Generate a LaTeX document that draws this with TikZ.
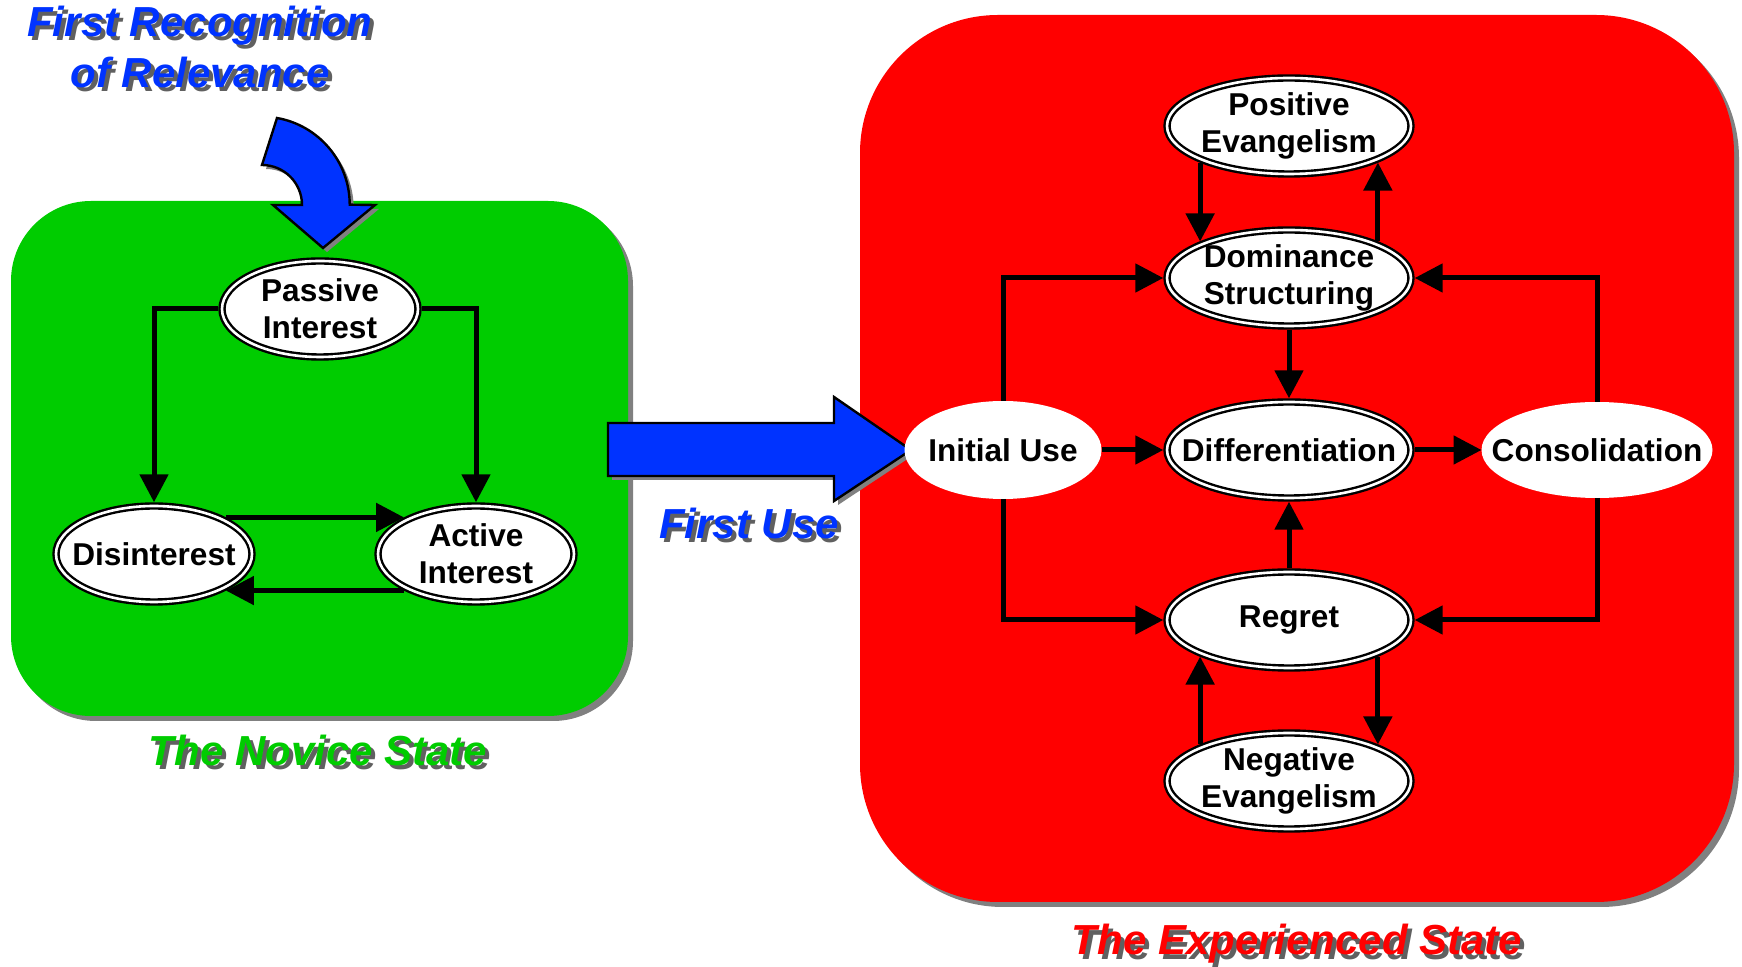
\documentclass[tikz,border=0pt]{standalone}
\usepackage{fontspec}
\setmainfont{Liberation Sans}
\usetikzlibrary{arrows.meta, shapes.geometric}

\definecolor{noviceGreen}{RGB}{0,204,0}
\definecolor{expertRed}{RGB}{255,0,0}
\definecolor{arrowBlue}{RGB}{0,51,255}
\definecolor{boxShadow}{RGB}{128,128,128}
\definecolor{textShadow}{RGB}{96,96,96}

% text with a grey drop shadow
\newcommand{\shadowed}[2]{\makebox[0pt][l]{\hspace{2pt}\raisebox{-2pt}{\color{textShadow}#2}}{\color{#1}#2}}

\tikzset{
    statenode/.style={ellipse, draw=black, line width=1.2pt, double=white, double distance=1.3pt,
        fill=white, minimum width=98pt, minimum height=48pt, inner xsep=-14pt, inner ysep=-4pt,
        outer sep=1.85pt, align=center, font=\fontsize{15.8}{18.5}\selectfont\bfseries},
    widestate/.style={statenode, minimum width=122pt},
    plainstate/.style={ellipse, fill=white, inner xsep=-14pt, inner ysep=-4pt, outer sep=0pt,
        align=center, font=\fontsize{15.8}{18.5}\selectfont\bfseries},
    flow/.style={-{Triangle[length=14pt,width=14pt]}, line width=2.5pt},
    headline/.style={inner sep=0pt, font=\fontsize{21}{25.5}\selectfont\bfseries\itshape},
    bigarrow/.style={fill=arrowBlue, draw=black, line width=1.2pt}
}

\begin{document}
\begin{tikzpicture}[x=0.5pt, y=-0.5pt]
    \useasboundingbox (0,0) rectangle (1742,967);

    % Novice state box
    \fill[boxShadow, rounded corners=40pt, xshift=2.5pt, yshift=-2.5pt] (11,201) rectangle (628,716);
    \fill[noviceGreen, rounded corners=40pt] (11,201) rectangle (628,716);

    % Experienced state box
    \fill[boxShadow, rounded corners=69pt, xshift=2.5pt, yshift=-2.5pt] (860,15) rectangle (1734,902);
    \fill[expertRed, rounded corners=69pt] (860,15) rectangle (1734,902);

    % First use arrow
    \fill[boxShadow, xshift=2pt, yshift=-2pt] (608,423) -- (834,423) -- (834,397) -- (911,450) -- (834,501) -- (834,476) -- (608,476) -- cycle;
    \draw[bigarrow] (608,423) -- (834,423) -- (834,397) -- (911,450) -- (834,501) -- (834,476) -- (608,476) -- cycle;

    % Recognition arrow
    \fill[boxShadow, xshift=2pt, yshift=-2pt] (277,118) arc (-80:0:88) -- (375,205) -- (323,248) -- (273,205) -- (302,205) arc (0:-90:40) -- cycle;
    \draw[bigarrow] (277,118) arc (-80:0:88) -- (375,205) -- (323,248) -- (273,205) -- (302,205) arc (0:-90:40) -- cycle;

    % Novice states
    \node[statenode] (passive) at (320,309) {Passive\\Interest};
    \node[statenode] (disint) at (154,554) {Disinterest};
    \node[statenode] (active) at (476,554) {Active\\Interest};

    \draw[flow] (passive.west) -| (disint.north);
    \draw[flow] (passive.east) -| (active.north);
    \draw[flow] (disint.north east) -- (active.north west);
    \draw[flow] (active.south west) -- (disint.south east);

    % Experienced states
    \node[widestate] (posev) at (1289,126) {Positive\\Evangelism};
    \node[widestate] (domst) at (1289,278) {Dominance\\Structuring};
    \node[widestate] (diff) at (1289,450) {Differentiation};
    \node[widestate] (regret) at (1289,620) {Regret};
    \node[widestate] (negev) at (1289,781) {Negative\\Evangelism};
    \node[plainstate, minimum width=98.5pt, minimum height=49pt] (inituse) at (1003,450) {Initial Use};
    \node[plainstate, minimum width=115.5pt, minimum height=48pt] (consol) at (1597,450) {Consolidation};

    \draw[flow] (inituse.north) |- (domst.west);
    \draw[flow] (inituse.east) -- (diff.west);
    \draw[flow] (inituse.south) |- (regret.west);
    \draw[flow] (domst.south) -- (diff.north);
    \draw[flow] (regret.north) -- (diff.south);
    \draw[flow] (diff.east) -- (consol.west);
    \draw[flow] (consol.north) |- (domst.east);
    \draw[flow] (consol.south) |- (regret.east);
    \draw[flow] (posev.south west) -- (domst.north west);
    \draw[flow] (domst.north east) -- (posev.south east);
    \draw[flow] (regret.south east) -- (negev.north east);
    \draw[flow] (negev.north west) -- (regret.south west);

    % Titles
    \node[headline] (recog) at (200,54) {\shadowed{arrowBlue}{\begin{tabular}{@{}c@{}}First Recognition\\of Relevance\end{tabular}}};
    \node[headline, anchor=base] (firstuse) at (749,539) {\shadowed{arrowBlue}{First Use}};
    \node[headline, anchor=base] (novice) at (318,766) {\shadowed{noviceGreen}{The Novice State}};
    \node[headline, anchor=base] (expert) at (1297,955) {\shadowed{expertRed}{The Experienced State}};
\end{tikzpicture}
\end{document}
